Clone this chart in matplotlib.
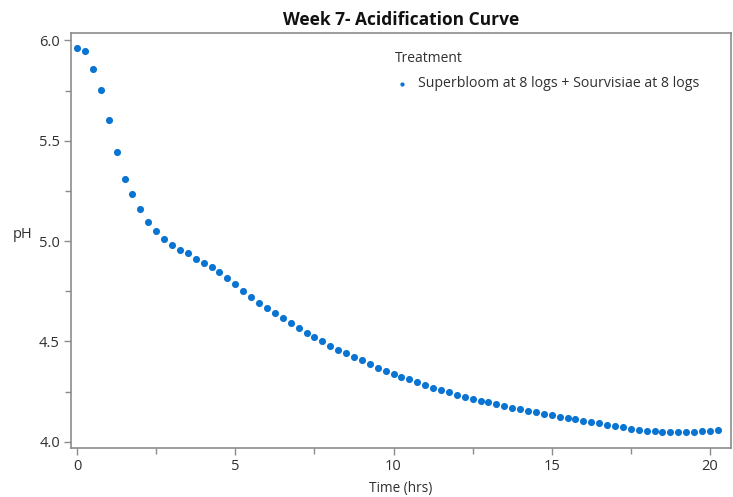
import matplotlib.pyplot as plt
from matplotlib.ticker import MultipleLocator

# time points (hrs) and measured pH
time_hrs = [0.0, 0.25, 0.5, 0.75, 1.0, 1.25, 1.5, 1.75, 2.0, 2.25, 2.5, 2.75,
            3.0, 3.25, 3.5, 3.75, 4.0, 4.25, 4.5, 4.75, 5.0, 5.25, 5.5, 5.75,
            6.0, 6.25, 6.5, 6.75, 7.0, 7.25, 7.5, 7.75, 8.0, 8.25, 8.5, 8.75,
            9.0, 9.25, 9.5, 9.75, 10.0, 10.25, 10.5, 10.75, 11.0, 11.25, 11.5, 11.75,
            12.0, 12.25, 12.5, 12.75, 13.0, 13.25, 13.5, 13.75, 14.0, 14.25, 14.5, 14.75,
            15.0, 15.25, 15.5, 15.75, 16.0, 16.25, 16.5, 16.75, 17.0, 17.25, 17.5, 17.75,
            18.0, 18.25, 18.5, 18.75, 19.0, 19.25, 19.5, 19.75, 20.0, 20.25]
ph = [5.963, 5.949, 5.859, 5.754, 5.602, 5.445, 5.309, 5.235, 5.160, 5.097, 5.052, 5.012,
      4.979, 4.957, 4.939, 4.913, 4.892, 4.870, 4.845, 4.817, 4.785, 4.753, 4.722, 4.692,
      4.665, 4.640, 4.615, 4.590, 4.567, 4.543, 4.522, 4.500, 4.478, 4.458, 4.440, 4.422,
      4.405, 4.389, 4.370, 4.353, 4.338, 4.325, 4.312, 4.300, 4.285, 4.270, 4.258, 4.247,
      4.235, 4.225, 4.213, 4.205, 4.197, 4.189, 4.178, 4.170, 4.162, 4.155, 4.147, 4.139,
      4.132, 4.125, 4.118, 4.112, 4.105, 4.098, 4.092, 4.085, 4.078, 4.072, 4.065, 4.060,
      4.055, 4.052, 4.050, 4.049, 4.049, 4.049, 4.050, 4.052, 4.055, 4.057]
series_name = "Superbloom at 8 logs + Sourvisiae at 8 logs"

plt.rcParams['font.family'] = ['Open Sans', 'DejaVu Sans']
grey = '#8c8c8c'
txt = '#303030'

fig = plt.figure(figsize=(7.33, 4.97), dpi=100)
ax = fig.add_axes([0.097, 0.099, 0.900, 0.834])

ax.scatter(time_hrs, ph, s=26, color='#0a74d2', linewidths=0, label=series_name)

ax.set_xlim(-0.19, 20.66)
ax.set_ylim(3.97, 6.035)
ax.xaxis.set_major_locator(MultipleLocator(5))
ax.xaxis.set_minor_locator(MultipleLocator(2.5))
ax.yaxis.set_major_locator(MultipleLocator(0.5))
ax.yaxis.set_minor_locator(MultipleLocator(0.25))
ax.yaxis.set_major_formatter(plt.FormatStrFormatter('%.1f'))

for s in ax.spines.values():
    s.set_color(grey)
    s.set_linewidth(1.2)
ax.tick_params(which='major', length=5, width=1, color=grey, labelsize=10.5, labelcolor=txt, pad=3)
ax.tick_params(which='minor', length=4, width=1, color=grey)

ax.set_title("Week 7- Acidification Curve", fontsize=12.5, fontweight='bold', color='#111111', pad=6)
ax.set_xlabel("Time (hrs)", fontsize=9.8, color=txt, labelpad=5)
ax.set_ylabel("pH", fontsize=10.5, color=txt, rotation=0, labelpad=4)
ax.yaxis.set_label_coords(-0.073, 0.497)

leg = ax.legend(title="Treatment", loc='upper left', bbox_to_anchor=(0.481, 0.972),
                frameon=False, fontsize=10.2, title_fontsize=10, handletextpad=0.65,
                handlelength=1.0, markerscale=0.6, borderpad=0.43, borderaxespad=0,
                labelspacing=0.73)
leg._legend_box.align = 'left'
for t in leg.get_texts():
    t.set_color(txt)
leg.get_title().set_color(txt)

fig.savefig('out.png', dpi=100)
